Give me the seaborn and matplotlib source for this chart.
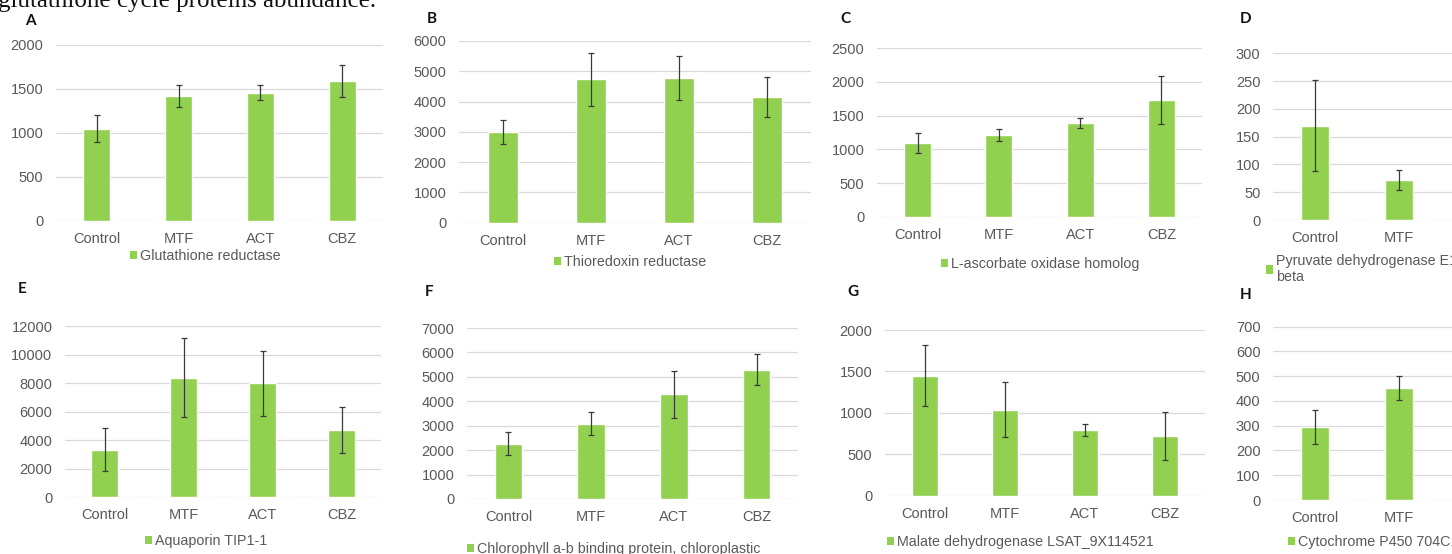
import numpy as np
import pandas as pd
import matplotlib
matplotlib.use("Agg")
import matplotlib.pyplot as plt
from matplotlib.patches import Patch
import seaborn as sns

# ---------------- data ----------------
categories = ["Control", "MTF", "ACT", "CBZ"]

a_label = "Glutathione reductase"
a_mean = [1050, 1420, 1460, 1590]
a_err = [150, 130, 85, 185]

b_label = "Thioredoxin reductase"
b_mean = [3000, 4730, 4780, 4150]
b_err = [400, 880, 740, 650]

c_label = "L-ascorbate oxidase homolog"
c_mean = [1100, 1210, 1390, 1730]
c_err = [150, 85, 75, 360]

d_label = "Pyruvate dehydrogenase E1 component subunit\nbeta"
d_mean = [170, 72]
d_err = [82, 18]

e_label = "Aquaporin TIP1-1"
e_mean = [3350, 8400, 8000, 4750]
e_err = [1480, 2780, 2280, 1620]

f_label = "Chlorophyll a-b binding protein, chloroplastic"
f_mean = [2260, 3080, 4280, 5290]
f_err = [470, 470, 970, 640]

g_label = "Malate dehydrogenase LSAT_9X114521"
g_mean = [1450, 1040, 795, 720]
g_err = [370, 330, 70, 290]

h_label = "Cytochrome P450 704C1"
h_mean = [295, 452]
h_err = [70, 50]

panel_letters = ["A", "B", "C", "D", "E", "F", "G", "H"]
y_max = [2000, 6000, 2500, 300, 12000, 7000, 2000, 700]
y_step = [500, 1000, 500, 50, 2000, 1000, 500, 100]

title_text = "glutathione cycle proteins abundance."

# ---------------- style ----------------
W, H = 1452, 554
GREEN = "#92D050"
GRID = "#D9D9D9"
TXT = "#595959"

sns.set_theme(style="white")
plt.rcParams["font.family"] = ["Liberation Sans", "DejaVu Sans"]

fig = plt.figure(figsize=(W / 100, H / 100), dpi=100)
fig.patch.set_facecolor("white")


def px_axes(l, t, r, b):
    return fig.add_axes([l / W, 1 - b / H, (r - l) / W, (b - t) / H])


# plot-area boxes in pixels (left, top, right, bottom)
boxes = [
    (56, 45, 383, 221),
    (459, 41, 811, 222.7),
    (877, 48.3, 1202, 216.7),
    (1273, 53.3, 1609, 220),
    (65, 326.3, 381, 497.3),
    (467, 328, 798, 499),
    (885, 330, 1205, 495.7),
    (1273, 326.7, 1609, 500),
]
letter_pos = [(30, 21), (432, 19), (845, 19), (1246, 19),
              (22, 289), (429, 292), (853, 292), (1246, 295)]
legend_pos = [(205, 256, "center"), (630, 262, "center"), (1040, 264, "center"),
              (1266, 254, "upper left"),
              (206, 541, "center"), (614, 549, "center"), (1020, 542, "center"),
              (1288, 542, "center left")]

means = [a_mean, b_mean, c_mean, d_mean, e_mean, f_mean, g_mean, h_mean]
errs = [a_err, b_err, c_err, d_err, e_err, f_err, g_err, h_err]
labels = [a_label, b_label, c_label, d_label, e_label, f_label, g_label, h_label]

for i in range(8):
    ax = px_axes(*boxes[i])
    n = len(means[i])
    df = pd.DataFrame({"treatment": categories[:n], "abundance": means[i]})
    sns.barplot(data=df, x="treatment", y="abundance", order=categories,
                color=GREEN, saturation=1, width=0.33, errorbar=None, ax=ax,
                zorder=2)
    ax.errorbar(np.arange(n), means[i], yerr=errs[i], fmt="none",
                ecolor="#3a3a3a", elinewidth=0.9, capsize=2.5, capthick=0.9,
                zorder=3)
    ax.set_xlim(-0.5, 3.5)
    ax.set_ylim(0, y_max[i])
    ax.set_yticks(np.arange(0, y_max[i] + 1, y_step[i]))
    ax.set_xlabel("")
    ax.set_ylabel("")
    ax.grid(axis="y", color=GRID, linewidth=0.9)
    ax.grid(axis="x", visible=False)
    ax.set_axisbelow(True)
    for s in ax.spines.values():
        s.set_visible(False)
    ax.tick_params(axis="both", length=0, labelsize=10.5, labelcolor=TXT)
    ax.tick_params(axis="x", pad=8)
    ax.tick_params(axis="y", pad=9)
    ax.set_facecolor("none")

    lx, ly, loc = legend_pos[i]
    ax.legend(handles=[Patch(facecolor=GREEN, edgecolor="none")],
              labels=[labels[i]], loc=loc,
              bbox_to_anchor=(lx / W, 1 - ly / H), bbox_transform=fig.transFigure,
              frameon=False, fontsize=10.3, handlelength=0.5, handleheight=0.5,
              handletextpad=0.2, labelcolor=TXT, borderpad=0, borderaxespad=0,
              labelspacing=0.2)

    px, py = letter_pos[i]
    fig.text(px / W, 1 - py / H, panel_letters[i], ha="center", va="center",
             fontsize=11, fontweight="bold", color="#111111",
             family=["Lato", "DejaVu Sans"])

fig.text(-2 / W, 1 - 7 / H, title_text, ha="left", va="baseline",
         fontsize=18, color="#111111", family=["Liberation Serif", "DejaVu Serif"])

fig.savefig("out.png", dpi=100)
